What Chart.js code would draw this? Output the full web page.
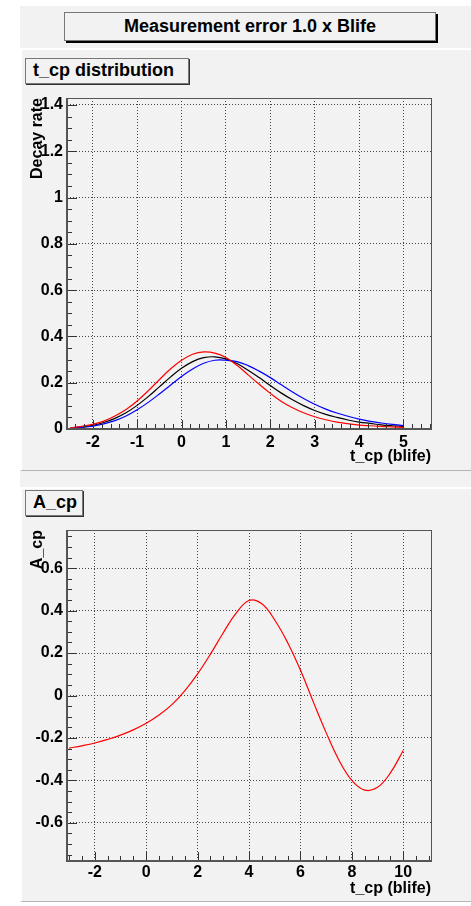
<!DOCTYPE html>
<html>
<head>
<meta charset="utf-8">
<script src="https://cdn.jsdelivr.net/npm/chart.js@4"></script>
<style>
  html, body { margin: 0; padding: 0; background: #fff; }
  body { width: 471px; height: 906px; position: relative; overflow: hidden;
         font-family: "Liberation Sans", Arial, sans-serif; }
  #bg { position: absolute; left: 20px; top: 6px; width: 451px; height: 895px; background: #f2f2f2; }
  .pad { position: absolute; left: 20px; width: 451px; background: #f2f2f2;
         border-left: 2px solid #fff; border-top: 2px solid #fff; border-bottom: 1px solid #b4b4b4; box-sizing: border-box; }
  .box { position: absolute; background: #f2f2f2; border: 1px solid #777; box-sizing: border-box;
         font-weight: bold; color: #000; white-space: nowrap; }
  #title { left: 64px; top: 12px; width: 372px; height: 29px; font-size: 18px; line-height: 27px;
           text-align: center; box-shadow: 2px 2px 0 #000; }
  .ptitle { font-size: 18px; line-height: 23px; padding-left: 7px; box-shadow: 1px 1px 0 #333; }
  canvas { position: absolute; }
</style>
</head>
<body>
<div id="bg"></div>
<div class="pad" style="top:48px;height:423px;"></div>
<div class="pad" style="top:487px;height:415px;"></div>
<div class="box" id="title">Measurement error 1.0 x Blife</div>
<div class="box ptitle" style="left:25px;top:58px;width:164px;height:26px;">t_cp distribution</div>
<div class="box ptitle" style="left:25px;top:490px;width:58px;height:26px;">A_cp</div>
<canvas id="rateChart" width="451" height="419" style="left:20px;top:51px;"></canvas>
<canvas id="acpChart" width="451" height="422" style="left:20px;top:478px;"></canvas>
<script>
// t_cp distribution (x in blife)
const tRate = [-2.5, -2.25, -2, -1.75, -1.5, -1.25, -1, -0.75, -0.5, -0.25, 0, 0.25, 0.5, 0.75,
               1, 1.25, 1.5, 1.75, 2, 2.25, 2.5, 2.75, 3, 3.25, 3.5, 3.75, 4, 4.25, 4.5, 4.75, 5];
const rateBlack = [0.005, 0.009, 0.016, 0.028, 0.046, 0.070, 0.102, 0.140, 0.182, 0.224, 0.262, 0.291, 0.308, 0.312,
                   0.303, 0.283, 0.254, 0.222, 0.188, 0.155, 0.126, 0.101, 0.080, 0.063, 0.050, 0.039, 0.030, 0.024, 0.018, 0.014, 0.011];
const rateRed = [0.006, 0.011, 0.020, 0.034, 0.056, 0.084, 0.121, 0.165, 0.213, 0.259, 0.297, 0.323, 0.333, 0.328,
                 0.309, 0.275, 0.234, 0.193, 0.154, 0.119, 0.092, 0.070, 0.053, 0.040, 0.030, 0.023, 0.017, 0.014, 0.011, 0.009, 0.007];
const rateBlue = [0.004, 0.007, 0.012, 0.022, 0.036, 0.056, 0.083, 0.115, 0.151, 0.189, 0.227, 0.259, 0.284, 0.297,
                  0.297, 0.291, 0.274, 0.250, 0.222, 0.191, 0.160, 0.132, 0.107, 0.086, 0.069, 0.055, 0.043, 0.033, 0.026, 0.020, 0.015];

// A_cp
const tAcp = [-3, -2.5, -2, -1.5, -1, -0.5, 0, 0.5, 1, 1.5, 2, 2.5, 3, 3.5, 4, 4.5,
              5, 5.5, 6, 6.5, 7, 7.5, 8, 8.5, 9, 9.5, 10];
const acp = [-0.248, -0.237, -0.224, -0.207, -0.187, -0.162, -0.131, -0.092, -0.043, 0.022, 0.102, 0.195, 0.296, 0.388, 0.448, 0.432,
             0.356, 0.250, 0.120, -0.030, -0.175, -0.305, -0.400, -0.446, -0.433, -0.365, -0.259];

const rateTicks = { xMinor: 0.2, xMajor: 1, yMinor: 0.05, yMajor: 0.2 };
const acpTicks = { xMinor: 0.5, xMajor: 2, yMinor: 0.05, yMajor: 0.2 };

const pts = (xs, ys) => xs.map((x, i) => ({ x: x, y: ys[i] }));

// ROOT-like frame with tick marks drawn inside the plot area
const innerTicks = {
  id: "innerTicks",
  afterDatasetsDraw(chart, args, opts) {
    const { ctx, chartArea: a, scales: { x, y } } = chart;
    ctx.save();
    ctx.strokeStyle = "#333";
    ctx.lineWidth = 1;
    ctx.beginPath();
    for (let k = Math.ceil(x.min / opts.xMinor); k * opts.xMinor <= x.max; k++) {
      const v = k * opts.xMinor;
      const major = Math.abs(v / opts.xMajor - Math.round(v / opts.xMajor)) < 1e-6;
      const px = Math.round(x.getPixelForValue(v)) + 0.5;
      ctx.moveTo(px, a.bottom);
      ctx.lineTo(px, a.bottom - (major ? 9 : 5));
    }
    for (let k = Math.ceil(y.min / opts.yMinor); k * opts.yMinor <= y.max; k++) {
      const v = k * opts.yMinor;
      const major = Math.abs(v / opts.yMajor - Math.round(v / opts.yMajor)) < 1e-6;
      const py = Math.round(y.getPixelForValue(v)) + 0.5;
      ctx.moveTo(a.left, py);
      ctx.lineTo(a.left + (major ? 10 : 5), py);
    }
    ctx.stroke();
    ctx.strokeStyle = "#555";
    ctx.strokeRect(Math.round(a.left) + 0.5, Math.round(a.top) + 0.5, Math.round(a.right - a.left), Math.round(a.bottom - a.top));
    ctx.lineWidth = 2;
    ctx.beginPath();
    ctx.moveTo(a.left, a.top);
    ctx.lineTo(a.left, a.bottom);
    ctx.lineTo(a.right, a.bottom);
    ctx.stroke();
    ctx.restore();
  }
};

const tickFont = { family: "'Liberation Sans', Arial, sans-serif", size: 16, weight: "bold" };
const numLabel = (v) => String(Math.round(v * 100) / 100);

function lineSet(data, color) {
  return {
    data: data,
    borderColor: color,
    borderWidth: 1.2,
    pointRadius: 0,
    fill: false,
    tension: 0.4
  };
}

function makeChart(id, datasets, cfg) {
  return new Chart(document.getElementById(id), {
    type: "line",
    data: { datasets: datasets },
    plugins: [innerTicks],
    options: {
      responsive: false,
      animation: false,
      layout: { padding: { left: 0, top: cfg.top, right: 40, bottom: 0 } },
      plugins: {
        legend: { display: false },
        tooltip: { enabled: false },
        innerTicks: cfg.ticks
      },
      scales: {
        x: {
          type: "linear",
          min: cfg.xMin,
          max: cfg.xMax,
          afterFit: (s) => { s.height = cfg.xHeight; },
          grid: { color: "#444", lineWidth: 1, drawTicks: false },
          border: { display: false, dash: [1, 2] },
          ticks: { stepSize: cfg.ticks.xMajor, includeBounds: false, padding: cfg.xPad, color: "#000", font: tickFont, maxRotation: 0, callback: numLabel },
          title: { display: true, text: "t_cp (blife)", align: "end", color: "#000", font: tickFont, padding: { top: 0, bottom: cfg.titlePad } }
        },
        y: {
          min: cfg.yMin,
          max: cfg.yMax,
          afterFit: (s) => { s.width = 47; },
          grid: { color: "#444", lineWidth: 1, drawTicks: false },
          border: { display: false, dash: [1, 2] },
          ticks: { stepSize: cfg.ticks.yMajor, includeBounds: false, padding: 4, color: "#000", font: tickFont, callback: numLabel },
          title: { display: true, text: cfg.yTitle, align: "end", color: "#000", font: tickFont, padding: { top: 8, bottom: 0 } }
        }
      }
    }
  });
}

makeChart("rateChart", [
  lineSet(pts(tRate, rateRed), "#ff0000"),
  lineSet(pts(tRate, rateBlue), "#0000ff"),
  lineSet(pts(tRate, rateBlack), "#000000")
], { top: 47, xHeight: 41, xPad: 4, titlePad: 4, xMin: -2.58, xMax: 5.62, yMin: 0, yMax: 1.43, yTitle: "Decay rate", ticks: rateTicks });

makeChart("acpChart", [
  lineSet(pts(tAcp, acp), "#ff0000")
], { top: 52, xHeight: 39, xPad: 2, titlePad: 2, xMin: -3.08, xMax: 11.08, yMin: -0.78, yMax: 0.78, yTitle: "A_cp", ticks: acpTicks });
</script>
</body>
</html>
